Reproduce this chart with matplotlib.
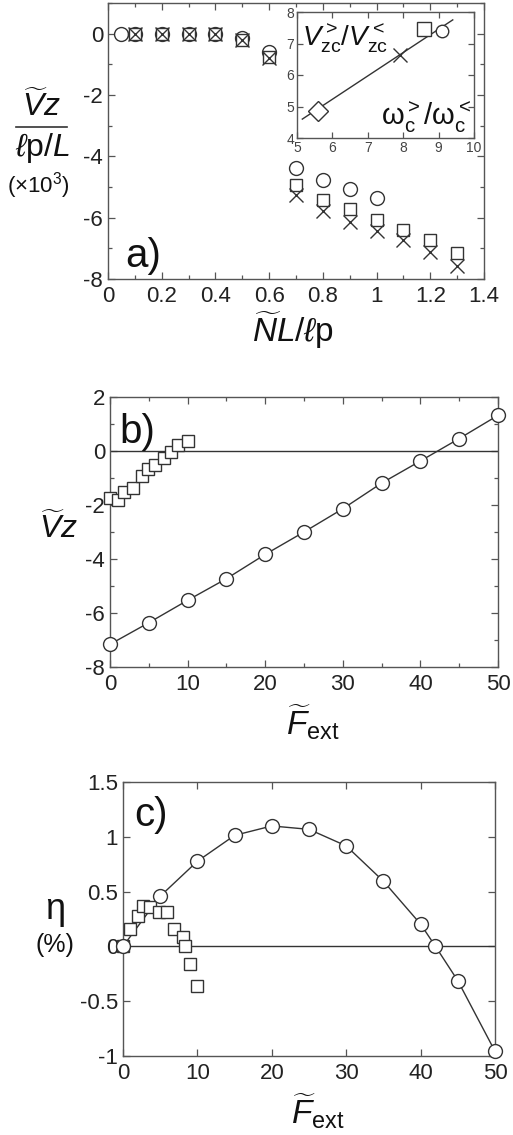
import matplotlib
matplotlib.use("Agg")
import matplotlib.pyplot as plt
from matplotlib.lines import Line2D
from matplotlib.ticker import MultipleLocator

plt.rcParams['font.family'] = ['Liberation Sans', 'DejaVu Sans']
plt.rcParams['mathtext.fontset'] = 'custom'
plt.rcParams['mathtext.rm'] = 'Liberation Sans'
plt.rcParams['mathtext.it'] = 'Liberation Sans:italic'
plt.rcParams['mathtext.bf'] = 'Liberation Sans:bold'
plt.rcParams['axes.unicode_minus'] = False

# ---------------- data: panel a ----------------
a_circ_x = [0.05, 0.1, 0.2, 0.3, 0.4, 0.5, 0.6, 0.7, 0.8, 0.9, 1.0]
a_circ_y = [0.0, 0.0, 0.0, 0.0, 0.0, -0.15, -0.6, -4.39, -4.78, -5.05, -5.35]
a_sq_x = [0.1, 0.2, 0.3, 0.4, 0.5, 0.6, 0.7, 0.8, 0.9, 1.0, 1.1, 1.2, 1.3]
a_sq_y = [0.0, 0.0, 0.0, 0.0, -0.2, -0.75, -4.94, -5.43, -5.73, -6.06, -6.39, -6.73, -7.16]
a_x_x = [0.1, 0.2, 0.3, 0.4, 0.5, 0.6, 0.7, 0.8, 0.9, 1.0, 1.1, 1.2, 1.3]
a_x_y = [0.0, 0.0, 0.0, 0.0, -0.2, -0.8, -5.27, -5.78, -6.14, -6.44, -6.73, -7.11, -7.57]

# inset
ins_diamond = (5.6, 4.85)
ins_cross = (7.9, 6.62)
ins_square = (8.6, 7.45)
ins_circle = (9.1, 7.4)
ins_fit_x = [5.15, 9.4]
ins_fit_y = [4.6, 7.75]

# ---------------- data: panel b ----------------
b_circ_x = [0, 5, 10, 15, 20, 25, 30, 35, 40, 45, 50]
b_circ_y = [-7.16, -6.36, -5.53, -4.73, -3.83, -3.0, -2.14, -1.19, -0.37, 0.46, 1.32]
b_sq_x = [0, 1, 1.8, 3, 4.1, 4.9, 5.8, 6.9, 7.8, 8.8, 10]
b_sq_y = [-1.74, -1.80, -1.52, -1.36, -0.93, -0.65, -0.51, -0.25, -0.04, 0.21, 0.36]

# ---------------- data: panel c ----------------
c_circ_x = [0, 5, 10, 15, 20, 25, 30, 35, 40, 42, 45, 50]
c_circ_y = [0.0, 0.458, 0.777, 1.013, 1.099, 1.068, 0.917, 0.595, 0.203, 0.0, -0.313, -0.957]
c_sq_x = [0, 1, 2, 2.7, 3.6, 4.8, 5.9, 6.9, 8.0, 8.3, 9.0, 10.0]
c_sq_y = [0.0, 0.16, 0.28, 0.37, 0.36, 0.31, 0.31, 0.16, 0.09, 0.0, -0.16, -0.36]

W, H = 513, 1135
fig = plt.figure(figsize=(W / 100, H / 100), dpi=100)
fig.patch.set_facecolor('white')

FC = '#555555'
MC = '#333333'
TC = '#111111'
TICKFS = 16


def px_axes(l, t, r, b):
    return fig.add_axes([l / W, 1 - b / H, (r - l) / W, (b - t) / H])


def style(ax, fs=TICKFS, length=5, mlength=3):
    for s in ax.spines.values():
        s.set_color(FC)
        s.set_linewidth(1.0)
    ax.tick_params(which='both', direction='in', top=True, right=True,
                   color=FC, labelcolor='#222222', labelsize=fs, width=0.9)
    ax.tick_params(which='major', length=length)
    ax.tick_params(which='minor', length=mlength)


mk = dict(markerfacecolor='white', markeredgecolor=MC, markeredgewidth=1.0,
          linestyle='none', clip_on=False)

# ===================== panel a =====================
axa = px_axes(108, 3, 484, 279)
axa.set_xlim(0, 1.4)
axa.set_ylim(-8, 1)
axa.xaxis.set_minor_locator(MultipleLocator(0.1))
axa.yaxis.set_minor_locator(MultipleLocator(1))
axa.set_yticks([0, -2, -4, -6, -8])
axa.set_xticks([0, 0.2, 0.4, 0.6, 0.8, 1.0, 1.2, 1.4])
axa.set_xticklabels(['0', '0.2', '0.4', '0.6', '0.8', '1', '1.2', '1.4'])
style(axa)
axa.tick_params(axis='x', pad=5)
axa.plot(a_circ_x, a_circ_y, marker='o', markersize=10, **mk)
axa.plot(a_sq_x, a_sq_y, marker='s', markersize=9, **mk)
axa.plot(a_x_x, a_x_y, marker='x', markersize=10, color=MC, linestyle='none',
         markeredgewidth=1.0, clip_on=False)
axa.text(0.045, 0.045, 'a)', transform=axa.transAxes, fontsize=29, color=TC)

# inset
axi = px_axes(297, 12, 474, 138)
axi.set_xlim(5, 10)
axi.set_ylim(4, 8)
axi.set_xticks([5, 6, 7, 8, 9, 10])
axi.set_yticks([4, 5, 6, 7, 8])
style(axi, fs=10, length=4)
axi.tick_params(pad=2, labelcolor='#444444')
axi.plot(ins_fit_x, ins_fit_y, color=MC, linewidth=1.0)
axi.plot([ins_diamond[0]], [ins_diamond[1]], marker='D', markersize=10, **mk)
axi.plot([ins_cross[0]], [ins_cross[1]], marker='x', markersize=10, color=MC,
         linestyle='none', markeredgewidth=1.0)
axi.plot([ins_square[0]], [ins_square[1]], marker='s', markersize=10, **mk)
axi.plot([ins_circle[0]], [ins_circle[1]], marker='o', markersize=9, **mk)
axi.text(0.03, 0.93, r'$V_{\rm zc}^{>}/V_{\rm zc}^{<}$', transform=axi.transAxes,
         fontsize=20, va='top', ha='left', color=TC)
axi.text(0.98, 0.02, r'$\mathrm{\omega}_{\rm c}^{>}/\mathrm{\omega}_{\rm c}^{<}$',
         transform=axi.transAxes, fontsize=21, va='bottom', ha='right', color=TC)

# panel a labels
fig.text(41 / W, 1 - 123 / H, r'$\widetilde{V}z$', fontsize=23, ha='center', va='bottom',
         color=TC)
fig.add_artist(Line2D([16 / W, 67 / W], [1 - 127 / H, 1 - 127 / H], color='#333333',
                      linewidth=1.2))
fig.text(42 / W, 1 - 131 / H, r'$\ell$p/$L$', fontsize=23, ha='center', va='top',
         color=TC)
fig.text(38 / W, 1 - 170 / H, r'($\times$10$^3$)', fontsize=16, ha='center', va='top',
         color=TC)
fig.text(293 / W, 1 - 351 / H, r'$\widetilde{N}L/\ell$p', fontsize=24, ha='center',
         va='bottom', color=TC)

# ===================== panel b =====================
axb = px_axes(110, 397, 498, 667)
axb.set_xlim(0, 50)
axb.set_ylim(-8, 2)
axb.xaxis.set_major_locator(MultipleLocator(10))
axb.xaxis.set_minor_locator(MultipleLocator(5))
axb.yaxis.set_major_locator(MultipleLocator(2))
axb.yaxis.set_minor_locator(MultipleLocator(1))
style(axb)
axb.tick_params(axis='x', pad=5)
axb.axhline(0, color=MC, linewidth=1.0)
axb.plot(b_circ_x, b_circ_y, color=MC, linewidth=1.0, zorder=2, clip_on=False)
axb.plot(b_circ_x, b_circ_y, marker='o', markersize=10, zorder=3, **mk)
axb.plot(b_sq_x, b_sq_y, marker='s', markersize=9, zorder=3, **mk)
axb.text(0.025, 0.83, 'b)', transform=axb.transAxes, fontsize=29, color=TC)
fig.text(58 / W, 1 - 545 / H, r'$\widetilde{V}z$', fontsize=23, ha='center', va='bottom',
         color=TC)
fig.text(313 / W, 1 - 742 / H, r'$\widetilde{F}_{\rm ext}$', fontsize=24, ha='center',
         va='bottom', color=TC)

# ===================== panel c =====================
axc = px_axes(123, 782, 495, 1056)
axc.set_xlim(0, 50)
axc.set_ylim(-1, 1.5)
axc.set_xticks([0, 10, 20, 30, 40, 50])
axc.set_yticks([-1, -0.5, 0, 0.5, 1, 1.5])
axc.set_yticklabels(['-1', '-0.5', '0', '0.5', '1', '1.5'])
style(axc)
axc.tick_params(axis='x', pad=5)
axc.axhline(0, color=MC, linewidth=1.0)
axc.plot(c_circ_x, c_circ_y, color=MC, linewidth=1.0, zorder=2, clip_on=False)
axc.plot(c_sq_x, c_sq_y, marker='s', markersize=9, zorder=3, **mk)
axc.plot(c_circ_x, c_circ_y, marker='o', markersize=10, zorder=4, **mk)
axc.text(0.03, 0.84, 'c)', transform=axc.transAxes, fontsize=29, color=TC)
fig.text(55 / W, 1 - 927 / H, 'η', fontsize=26, ha='center', va='bottom', color=TC)
fig.text(55 / W, 1 - 933 / H, '(%)', fontsize=18, ha='center', va='top', color=TC)
fig.text(318 / W, 1 - 1131 / H, r'$\widetilde{F}_{\rm ext}$', fontsize=24, ha='center',
         va='bottom', color=TC)

fig.savefig('out.png', dpi=100)
